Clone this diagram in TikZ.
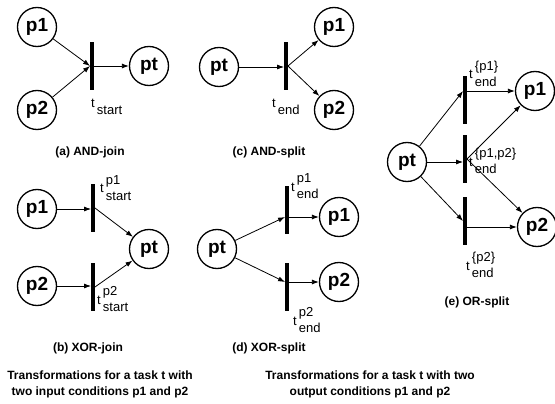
\documentclass[tikz,border=0pt]{standalone}
\usepackage{fontspec}
\setmainfont{Liberation Sans}
\usetikzlibrary{arrows.meta}
\newcommand{\tlab}[2]{t\,$\vcenter{\hbox{\begin{tabular}{@{}l@{}}#1\\[3pt]#2\end{tabular}}}$}
\tikzset{
	place/.style={draw, circle, line width=1.3pt, minimum size=39pt, inner sep=0pt, font=\fontsize{19}{19}\selectfont\bfseries},
	trans/.style={fill=black, inner sep=0pt, minimum width=3.5pt, minimum height=48pt},
	arc/.style={-{Latex[length=7pt,width=5pt]}, line width=0.8pt},
	tname/.style={anchor=west, inner sep=0pt, font=\fontsize{13}{13}\selectfont},
	capt/.style={font=\fontsize{12}{14}\selectfont\bfseries},
	note/.style={align=center, font=\fontsize{12}{16}\selectfont\bfseries}
}

\begin{document}
\begin{tikzpicture}[x=1pt, y=-1pt]
		%%%%% START %%%%%
		\useasboundingbox (0, 0) rectangle (555, 404);
		
		% (a) AND-join
		\node[place] (ap1) at (37, 27) {p1};
		\node[place] (ap2) at (37, 110) {p2};
		\node[trans] (ab) at (92, 66) {};
		\node[place] (apt) at (149, 66) {pt};
		\draw[arc] (ap1) -- (ab.west);
		\draw[arc] (ap2) -- (ab.west);
		\draw[arc] (ab.east) -- (apt);
		\node[tname] (ala) at (91, 104) {\tlab{}{start}};
		\node[capt] (acap) at (90, 152) {(a) AND-join};
		
		% (c) AND-split
		\node[place] (cpt) at (219, 67) {pt};
		\node[trans] (cb) at (286, 66) {};
		\node[place] (cp1) at (334, 27) {p1};
		\node[place] (cp2) at (334, 110) {p2};
		\draw[arc] (cpt) -- (cb.west |- cpt);
		\draw[arc] (cb.east) -- (cp1);
		\draw[arc] (cb.east) -- (cp2);
		\node[tname] (cla) at (272, 104) {\tlab{}{end}};
		\node[capt] (ccap) at (269, 152) {(c) AND-split};
		
		% (b) XOR-join
		\node[place] (bp1) at (37, 209) {p1};
		\node[place] (bp2) at (37, 286) {p2};
		\node[trans] (bb1) at (93, 208) {};
		\node[trans] (bb2) at (93, 287) {};
		\node[place] (bpt) at (149, 249) {pt};
		\draw[arc] (bp1) -- (bb1.west |- bp1);
		\draw[arc] (bp2) -- (bb2.west |- bp2);
		\draw[arc] (bb1.east) -- (bpt);
		\draw[arc] (bb2.east) -- (bpt);
		\node[tname] (bla1) at (100, 190) {\tlab{p1}{start}};
		\node[tname] (bla2) at (97, 301) {\tlab{p2}{start}};
		\node[capt] (bcap) at (88, 348) {(b) XOR-join};
		
		% (d) XOR-split
		\node[place] (dpt) at (217, 249) {pt};
		\node[trans] (db1) at (287, 210) {};
		\node[trans] (db2) at (287, 287) {};
		\node[place] (dp1) at (339, 217) {p1};
		\node[place] (dp2) at (339, 282) {p2};
		\draw[arc] (dpt) -- (db1.west |- dp1);
		\draw[arc] (dpt) -- (db2.west |- dp2);
		\draw[arc] (db1.east |- dp1) -- (dp1);
		\draw[arc] (db2.east |- dp2) -- (dp2);
		\node[tname] (dla1) at (291, 188) {\tlab{p1}{end}};
		\node[tname] (dla2) at (293, 322) {\tlab{p2}{end}};
		\node[capt] (dcap) at (269, 348) {(d) XOR-split};
		
		% (e) OR-split
		\node[place] (ept) at (407, 162) {pt};
		\node[trans] (eb1) at (465, 100) {};
		\node[trans] (eb2) at (465, 159) {};
		\node[trans] (eb3) at (465, 221) {};
		\node[place] (ep1) at (535, 91) {p1};
		\node[place] (ep2) at (537, 227) {p2};
		\draw[arc] (ept) -- (eb1.west |- ep1);
		\draw[arc] (ept) -- (eb2.west |- ept);
		\draw[arc] (ept) -- (eb3.west);
		\draw[arc] (eb1.east |- ep1) -- (ep1);
		\draw[arc] (eb2.east) -- (ep1);
		\draw[arc] (eb2.east) -- (ep2);
		\draw[arc] (eb3.east |- ep2) -- (ep2);
		\node[tname] (ela1) at (469, 76) {\tlab{\{p1\}}{end}};
		\node[tname] (ela2) at (469, 163) {\tlab{\{p1,p2\}}{end}};
		\node[tname] (ela3) at (466, 267) {\tlab{\{p2\}}{end}};
		\node[capt] (ecap) at (477, 302) {(e) OR-split};
		
		% notes
		\node[note] (lnote) at (100, 384) {Transformations for a task t with\\two input conditions p1 and p2};
		\node[note] (rnote) at (370, 384) {Transformations for a task t with two\\output conditions p1 and p2};
		
		%%%%% END %%%%%
	\end{tikzpicture}
\end{document}
